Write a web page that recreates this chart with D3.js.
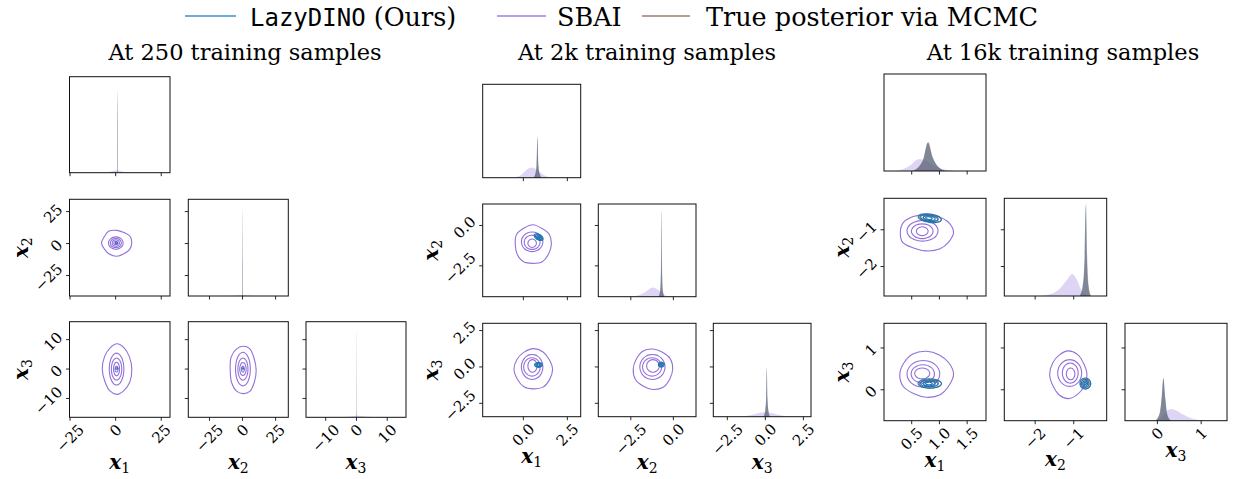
<!DOCTYPE html>
<html>
<head>
<meta charset="utf-8">
<script src="https://cdn.jsdelivr.net/npm/d3@7"></script>
<style>
  body { margin: 0; background: #fff; }
  text { font-family: "DejaVu Serif", serif; fill: #000; }
</style>
</head>
<body>
<div id="chart"></div>
<script>
// ---------- data ----------
const titles = ["At 250 training samples", "At 2k training samples", "At 16k training samples"];
const legendNames = ["LazyDINO", "SBAI", "True posterior via MCMC"];

// axis limits per group for x1, x2, x3
const axisDomains = [
  [[-25.3, 29.8], [-41, 34.6], [-16.4, 16.1]],
  [[-2.31, 3.26], [-4.41, 1.33], [-3.42, 3.0]],
  [[0.0, 1.84], [-2.8, -0.145], [-0.74, 1.59]]
];
const tickValues = [
  [[-25, 0, 25], [-25, 0, 25], [-10, 0, 10]],
  [[0, 2.5], [-2.5, 0], [-2.5, 0, 2.5]],
  [[0.5, 1, 1.5], [-2, -1], [0, 1]]
];
const tickLabels = [
  [["−25", "0", "25"], ["−25", "0", "25"], ["−10", "0", "10"]],
  [["0.0", "2.5"], ["−2.5", "0.0"], ["−2.5", "0.0", "2.5"]],
  [["0.5", "1.0", "1.5"], ["−2", "−1"], ["0", "1"]]
];

// 1D marginals: [value, density relative to panel top]
const sbaiDensity = [
  [
    [[-7, 0], [-3, 0.01], [0.5, 0.025], [4, 0.01], [8, 0]],
    [[-12, 0], [-4, 0.004], [0, 0.01], [4, 0.004], [12, 0]],
    [[-6, 0], [-2, 0.008], [0.5, 0.016], [3, 0.008], [7.5, 0]]
  ],
  [
    [[-0.6, 0], [-0.2, 0.02], [0.1, 0.07], [0.45, 0.11], [0.8, 0.085], [1.1, 0.035], [1.5, 0.006], [1.8, 0]],
    [[-2.6, 0], [-2.1, 0.012], [-1.7, 0.045], [-1.2, 0.1], [-0.9, 0.075], [-0.6, 0.03], [-0.3, 0.005], [0, 0]],
    [[-1.8, 0], [-1, 0.015], [-0.4, 0.04], [0, 0.047], [0.4, 0.04], [1, 0.015], [1.8, 0]]
  ],
  [
    [[0.2, 0], [0.35, 0.02], [0.5, 0.07], [0.62, 0.12], [0.72, 0.115], [0.85, 0.07], [1.0, 0.03], [1.15, 0.01], [1.3, 0]],
    [[-1.9, 0], [-1.6, 0.02], [-1.35, 0.08], [-1.15, 0.18], [-1.04, 0.225], [-0.92, 0.17], [-0.8, 0.06], [-0.68, 0.01], [-0.6, 0]],
    [[-0.1, 0], [0.05, 0.02], [0.15, 0.07], [0.3, 0.12], [0.45, 0.1], [0.6, 0.06], [0.8, 0.02], [1.0, 0.005], [1.1, 0]]
  ]
];
const lazyDensity = [
  [
    [[0.75, 0], [0.9, 0.86], [1.05, 0]],
    [[-0.2, 0], [0, 0.9], [0.2, 0]],
    [[-0.08, 0], [0, 0.93], [0.08, 0]]
  ],
  [
    [[0.58, 0], [0.7, 0.05], [0.76, 0.15], [0.81, 0.43], [0.86, 0.13], [0.93, 0.04], [1.05, 0]],
    [[-0.86, 0], [-0.77, 0.08], [-0.73, 0.3], [-0.7, 0.92], [-0.67, 0.3], [-0.63, 0.08], [-0.54, 0]],
    [[-0.1, 0], [0.01, 0.08], [0.06, 0.2], [0.1, 0.52], [0.14, 0.2], [0.19, 0.08], [0.3, 0]]
  ],
  [
    [[0.52, 0], [0.62, 0.035], [0.71, 0.12], [0.79, 0.29], [0.87, 0.15], [0.97, 0.05], [1.12, 0]],
    [[-0.85, 0], [-0.77, 0.1], [-0.72, 0.38], [-0.69, 0.93], [-0.66, 0.38], [-0.62, 0.1], [-0.56, 0]],
    [[-0.04, 0], [0.06, 0.08], [0.1, 0.24], [0.14, 0.43], [0.18, 0.24], [0.23, 0.06], [0.31, 0]]
  ]
];
const mcmcDensity = [
  [
    [[0.75, 0], [0.9, 0.84], [1.05, 0]],
    [[-0.2, 0], [0, 0.91], [0.2, 0]],
    [[-0.08, 0], [0, 0.93], [0.08, 0]]
  ],
  [
    [[0.55, 0], [0.68, 0.04], [0.75, 0.14], [0.8, 0.45], [0.85, 0.14], [0.92, 0.04], [1.05, 0]],
    [[-0.85, 0], [-0.76, 0.08], [-0.72, 0.3], [-0.69, 0.94], [-0.66, 0.3], [-0.62, 0.08], [-0.53, 0]],
    [[-0.12, 0], [0.0, 0.08], [0.05, 0.2], [0.09, 0.535], [0.13, 0.2], [0.18, 0.08], [0.3, 0]]
  ],
  [
    [[0.5, 0], [0.6, 0.03], [0.7, 0.11], [0.8, 0.3], [0.88, 0.14], [0.98, 0.04], [1.1, 0]],
    [[-0.84, 0], [-0.76, 0.1], [-0.71, 0.4], [-0.68, 0.95], [-0.65, 0.4], [-0.61, 0.1], [-0.55, 0]],
    [[-0.05, 0], [0.05, 0.08], [0.1, 0.25], [0.135, 0.445], [0.17, 0.25], [0.22, 0.06], [0.3, 0]]
  ]
];

// 2D contour rings per pair (x1,x2), (x1,x3), (x2,x3): [cx, cy, rx, ry, tilt]
const sbaiRings = [
  [
    [[0.6, 0.4, 8.2, 9.9], [0.1, 0.4, 4.0, 4.8], [0.1, 0.4, 3.0, 3.6], [0.1, 0.4, 2.0, 2.5], [0.1, 0.4, 1.1, 1.3]],
    [[0.8, 0, 7.9, 8.6], [0.5, 0, 4.0, 5.4], [0.5, 0, 2.85, 3.75], [0.5, 0, 1.64, 2.3], [0.5, 0, 0.8, 1.0]],
    [[0.3, -0.3, 10, 8.2], [0.3, 0, 5.6, 5.7], [0.3, 0, 3.8, 3.75], [0.3, 0, 2.4, 2.2], [0.3, 0, 1.1, 1.0]]
  ],
  [
    [[0.55, -1.18, 1.04, 1.2], [0.5, -1.01, 0.61, 0.61], [0.5, -1.04, 0.45, 0.44], [0.5, -1.1, 0.24, 0.26]],
    [[0.57, -0.16, 1.07, 1.39], [0.5, 0, 0.61, 0.86], [0.49, 0, 0.47, 0.63], [0.52, 0.07, 0.26, 0.43]],
    [[-1.2, -0.16, 1.16, 1.39], [-1.23, 0, 0.74, 0.86], [-1.25, 0, 0.56, 0.63], [-1.2, 0.07, 0.37, 0.43]]
  ],
  [
    [[0.765, -1.075, 0.48, 0.5], [0.695, -1.03, 0.28, 0.28], [0.69, -1.04, 0.195, 0.2], [0.69, -1.04, 0.105, 0.12]],
    [[0.765, 0.37, 0.48, 0.55], [0.71, 0.38, 0.295, 0.32], [0.70, 0.38, 0.21, 0.22], [0.69, 0.39, 0.135, 0.13]],
    [[-1.14, 0.36, 0.47, 0.56], [-1.105, 0.4, 0.31, 0.32], [-1.09, 0.4, 0.205, 0.24], [-1.08, 0.38, 0.11, 0.14]]
  ]
];
// irregularity of the outermost SBAI ring, 12 radial factors
const sbaiOuterWobble = [
  [[1.0, 1.04, 0.96, 1.0, 1.08, 0.97, 1.02, 0.95, 1.0, 1.04, 0.97, 1.0],
   [1.02, 0.98, 0.97, 1.0, 0.97, 1.0, 1.03, 0.98, 1.0, 1.0, 0.97, 1.02],
   [1.0, 0.97, 1.02, 0.98, 1.0, 1.04, 0.96, 1.0, 1.0, 0.98, 1.03, 1.0]],
  [[1.0, 1.03, 0.96, 1.02, 0.98, 1.04, 0.97, 1.0, 1.03, 0.97, 1.02, 0.98],
   [1.02, 0.97, 1.0, 1.02, 0.98, 1.0, 1.03, 0.98, 1.0, 0.97, 1.02, 1.0],
   [1.0, 1.02, 0.97, 1.0, 1.03, 0.98, 1.0, 1.02, 0.97, 1.0, 1.03, 0.98]],
  [[1.02, 1.0, 0.97, 0.96, 1.0, 1.02, 0.98, 1.04, 0.97, 1.0, 1.02, 0.98],
   [1.02, 0.98, 0.97, 1.0, 1.02, 0.98, 1.0, 1.02, 0.97, 1.0, 1.03, 0.98],
   [1.03, 0.97, 1.0, 1.02, 0.98, 1.0, 1.03, 0.97, 1.0, 1.02, 0.98, 1.0]]
];
const lazyRings = [
  [
    [[0.5, 0.5, 0.6, 0.6, 0]],
    [[0.7, 0.2, 0.6, 0.25, 0]],
    [[0.2, 0.2, 0.6, 0.25, 0]]
  ],
  [
    [[0.87, -0.72, 0.28, 0.17, 30], [0.87, -0.72, 0.2, 0.12, 30], [0.87, -0.72, 0.12, 0.07, 30], [0.87, -0.72, 0.05, 0.03, 30]],
    [[0.86, 0.14, 0.22, 0.17, 0], [0.86, 0.14, 0.15, 0.11, 0], [0.86, 0.14, 0.08, 0.06, 0]],
    [[-0.71, 0.16, 0.17, 0.17, 0], [-0.71, 0.16, 0.11, 0.11, 0], [-0.71, 0.16, 0.05, 0.05, 0]]
  ],
  [
    [[0.825, -0.685, 0.21, 0.115, 8], [0.82, -0.685, 0.16, 0.085, 8], [0.815, -0.685, 0.11, 0.06, 8], [0.81, -0.685, 0.06, 0.035, 8]],
    [[0.825, 0.15, 0.21, 0.11, 0], [0.82, 0.15, 0.16, 0.08, 0], [0.815, 0.15, 0.11, 0.055, 0], [0.81, 0.15, 0.06, 0.03, 0]],
    [[-0.70, 0.15, 0.14, 0.13, 0], [-0.70, 0.15, 0.1, 0.095, 0], [-0.70, 0.15, 0.06, 0.06, 0], [-0.70, 0.15, 0.03, 0.03, 0]]
  ]
];
const mcmcRings = [
  [[], [], []],
  [
    [[0.88, -0.72, 0.22, 0.13, 30]],
    [[0.87, 0.14, 0.17, 0.12, 0]],
    [[-0.7, 0.16, 0.13, 0.13, 0]]
  ],
  [
    [[0.84, -0.69, 0.2, 0.1, 8], [0.84, -0.69, 0.13, 0.065, 8]],
    [[0.84, 0.14, 0.2, 0.1, 0], [0.84, 0.14, 0.13, 0.065, 0]],
    [[-0.69, 0.14, 0.13, 0.12, 0], [-0.69, 0.14, 0.08, 0.075, 0]]
  ]
];

// ---------- layout ----------
const W = 1235, H = 479;
const colBoxes = [
  [[69.5, 170], [188.3, 288.3], [306, 406]],
  [[482.7, 580.7], [598.3, 696], [713.3, 811]],
  [[884, 986], [1004.3, 1106.7], [1125, 1227]]
];
const rowBoxes = [
  [[76.7, 172.7], [199.3, 296], [321.7, 417.3]],
  [[84.3, 177.7], [204, 296.7], [323.3, 416.7]],
  [[74, 171], [198.3, 296], [323.3, 420.7]]
];
const titleX = [245, 647, 1063];
const pairs = [[0, 1], [0, 2], [1, 2]];

const C = {
  blue: "#1f77b4", purple: "#9370db", brown: "#8c564b",
  frame: "#111", tickFont: 15
};

const svg = d3.select("#chart").append("svg")
  .attr("width", W).attr("height", H)
  .style("background", "#fff");

// ---------- legend ----------
const legend = svg.append("g");
const legendItems = [
  {x0: 185, x1: 236, tx: 250, color: "#3f8fcc"},
  {x0: 497, x1: 546, tx: 557, color: "#a57ee0"},
  {x0: 642, x1: 690, tx: 706, color: "#a07c72"}
];
legendItems.forEach((d, i) => {
  legend.append("line").attr("x1", d.x0).attr("x2", d.x1).attr("y1", 16).attr("y2", 16)
    .attr("stroke", d.color).attr("stroke-width", 1.3);
  const t = legend.append("text").attr("x", d.tx).attr("y", 26).attr("font-size", 25.5);
  if (i === 0) {
    t.append("tspan").style("font-family", "'DejaVu Sans Mono', monospace").attr("font-size", 24).text(legendNames[0]);
    t.append("tspan").text(" (Ours)");
  } else {
    t.text(legendNames[i]);
  }
});

// ---------- titles ----------
titles.forEach((t, g) => {
  svg.append("text").attr("x", titleX[g]).attr("y", 60).attr("text-anchor", "middle")
    .attr("font-size", 22.5).text(t);
});

const ringLine = d3.line().curve(d3.curveCatmullRomClosed);
const ringPts = (r, sx, sy, wob) => {
  const n = wob ? wob.length : 24;
  const cx = sx(r[0]), cy = sy(r[1]);
  const rx = Math.abs(sx(r[0] + r[2]) - cx), ry = Math.abs(sy(r[1] + r[3]) - cy);
  const a = (r[4] || 0) * Math.PI / 180;
  const pts = [];
  for (let k = 0; k < n; k++) {
    const th = 2 * Math.PI * k / n;
    const f = wob ? wob[k] : 1;
    const px = rx * f * Math.cos(th), py = -ry * f * Math.sin(th);
    pts.push([cx + px * Math.cos(a) - py * Math.sin(a), cy + px * Math.sin(a) + py * Math.cos(a)]);
  }
  return pts;
};

function tickLabelX(panel, xs, vals, labs, bottom) {
  const nodes = [];
  vals.forEach((v, i) => {
    const t = panel.append("text").attr("font-size", C.tickFont).attr("text-anchor", "middle")
      .text(labs[i]);
    const w = t.node().getComputedTextLength();
    const h = C.tickFont * 0.7;
    const half = (w + h) * 0.7071 / 2;
    const cx = xs(v), cy = bottom + 6 + half;
    t.attr("transform", `translate(${cx},${cy}) rotate(-45)`).attr("dy", "0.35em");
    nodes.push(cy + half);
  });
  return d3.max(nodes);
}
function tickLabelY(panel, ys, vals, labs, left) {
  const lefts = [];
  vals.forEach((v, i) => {
    const t = panel.append("text").attr("font-size", C.tickFont).attr("text-anchor", "middle")
      .text(labs[i]);
    const w = t.node().getComputedTextLength();
    const h = C.tickFont * 0.7;
    const half = (w + h) * 0.7071 / 2;
    const cx = left - 6 - half, cy = ys(v) + 2;
    t.attr("transform", `translate(${cx},${cy}) rotate(-45)`).attr("dy", "0.35em");
    lefts.push(cx - half);
  });
  return d3.min(lefts);
}

function axisLabel(parent, idx, x, y, rotate) {
  const t = parent.append("text").attr("text-anchor", "middle").attr("class", rotate ? "ylab" : "xlab")
    .attr("transform", `translate(${x},${y})` + (rotate ? " rotate(-90)" : ""));
  t.append("tspan").attr("font-size", 20).attr("font-weight", "bold").attr("font-style", "italic").text("x");
  t.append("tspan").attr("font-size", 14).attr("dy", 4).text(String(idx + 1));
}

for (let g = 0; g < 3; g++) {
  const grp = svg.append("g");
  const xScales = [0, 1, 2].map(v => d3.scaleLinear().domain(axisDomains[g][v]).range(colBoxes[g][v]));
  const yScales = [0, 1, 2].map(v => d3.scaleLinear().domain(axisDomains[g][v]).range([rowBoxes[g][v][1], rowBoxes[g][v][0]]));
  const xLabelBottoms = [];
  let yLabelLeft = Infinity;

  for (let r = 0; r < 3; r++) {
    for (let c = 0; c <= r; c++) {
      const [x0, x1] = colBoxes[g][c];
      const [y0, y1] = rowBoxes[g][r];
      const panel = grp.append("g");
      const clipId = `clip-${g}-${r}-${c}`;
      panel.append("clipPath").attr("id", clipId).append("rect")
        .attr("x", x0).attr("y", y0).attr("width", x1 - x0).attr("height", y1 - y0);
      const plot = panel.append("g").attr("clip-path", `url(#${clipId})`);
      const xs = xScales[c];

      if (r === c) {
        const dy = d3.scaleLinear().domain([0, 1]).range([y1, y0]);
        const area = d3.area().x(d => xs(d[0])).y0(y1).y1(d => dy(d[1])).curve(d3.curveMonotoneX);
        plot.append("path").datum(sbaiDensity[g][c]).attr("d", area)
          .attr("fill", C.purple).attr("fill-opacity", 0.3);
        plot.append("path").datum(lazyDensity[g][c]).attr("d", area)
          .attr("fill", C.blue).attr("fill-opacity", 0.6);
        plot.append("path").datum(mcmcDensity[g][c]).attr("d", area)
          .attr("fill", C.brown).attr("fill-opacity", 0.45);
      } else {
        const ys = yScales[r];
        const p = pairs.findIndex(q => q[0] === c && q[1] === r);
        sbaiRings[g][p].forEach((ring, k) => {
          plot.append("path").attr("d", ringLine(ringPts(ring, xs, ys, k === 0 ? sbaiOuterWobble[g][p] : null)))
            .attr("fill", "none").attr("stroke", C.purple).attr("stroke-width", 1.1);
        });
        mcmcRings[g][p].forEach(ring => {
          plot.append("path").attr("d", ringLine(ringPts(ring, xs, ys, null)))
            .attr("fill", "none").attr("stroke", C.brown).attr("stroke-width", 1);
        });
        lazyRings[g][p].forEach(ring => {
          plot.append("path").attr("d", ringLine(ringPts(ring, xs, ys, null)))
            .attr("fill", "none").attr("stroke", C.blue).attr("stroke-width", 1.1);
        });
      }

      // frame
      panel.append("rect").attr("x", x0).attr("y", y0).attr("width", x1 - x0).attr("height", y1 - y0)
        .attr("fill", "none").attr("stroke", C.frame).attr("stroke-width", 1);

      // bottom ticks
      tickValues[g][c].forEach(v => {
        panel.append("line").attr("x1", xs(v)).attr("x2", xs(v)).attr("y1", y1).attr("y2", y1 + 3.5)
          .attr("stroke", C.frame).attr("stroke-width", 0.9);
      });
      if (r === 2) {
        xLabelBottoms[c] = tickLabelX(panel, xs, tickValues[g][c], tickLabels[g][c], y1);
      }
      // left ticks (rows below the first)
      if (r > 0) {
        const ys = yScales[r];
        tickValues[g][r].forEach(v => {
          panel.append("line").attr("x1", x0 - 3.5).attr("x2", x0).attr("y1", ys(v)).attr("y2", ys(v))
            .attr("stroke", C.frame).attr("stroke-width", 0.9);
        });
        if (c === 0) {
          const l = tickLabelY(panel, ys, tickValues[g][r], tickLabels[g][r], x0);
          yLabelLeft = Math.min(yLabelLeft, l);
          axisLabel(panel, r, 0, (y0 + y1) / 2, true);
        }
      }
    }
  }
  // x labels below the rotated tick labels
  for (let c = 0; c < 3; c++) {
    const [x0, x1] = colBoxes[g][c];
    axisLabel(grp, c, (x0 + x1) / 2, Math.min(xLabelBottoms[c] + 16, 469), false);
  }
  // y labels left of the rotated tick labels
  grp.selectAll("text.ylab").each(function () {
    const t = d3.select(this);
    const m = /translate\(([^,]+),([^)]+)\)/.exec(t.attr("transform"));
    t.attr("transform", `translate(${yLabelLeft - 6},${m[2]}) rotate(-90)`);
  });
}
</script>
</body>
</html>
